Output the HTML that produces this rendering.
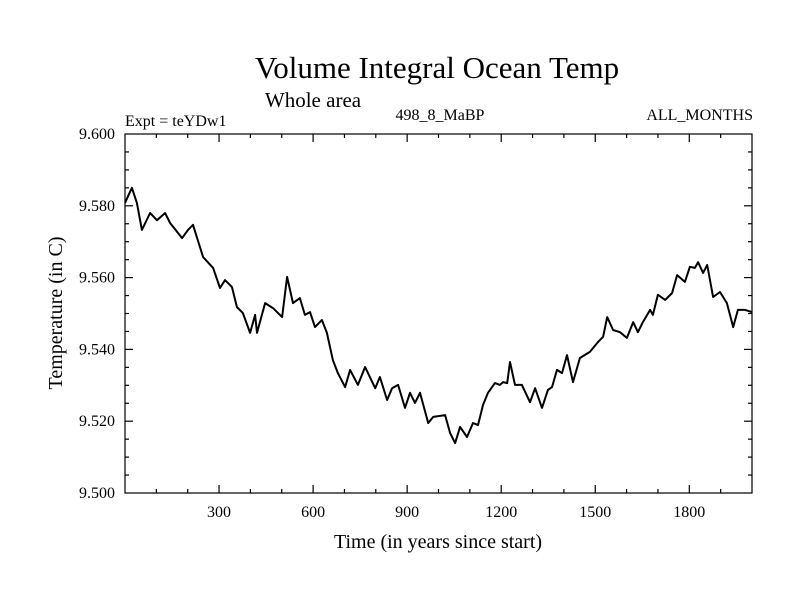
<!DOCTYPE html>
<html><head><meta charset="utf-8"><style>
body{margin:0;background:#fff;}
svg text{font-family:"Liberation Serif",serif;fill:#000;}
</style></head><body>
<svg id="chart" width="800" height="600" xmlns="http://www.w3.org/2000/svg">
<text x="437" y="78" font-size="31" text-anchor="middle">Volume Integral Ocean Temp</text>
<text x="313" y="107" font-size="21" text-anchor="middle">Whole area</text>
<text x="125" y="126" font-size="16">Expt = teYDw1</text>
<text x="440" y="120" font-size="16" text-anchor="middle">498_8_MaBP</text>
<text x="753" y="120" font-size="16" text-anchor="end">ALL_MONTHS</text>
<text x="438" y="548" font-size="20" text-anchor="middle">Time (in years since start)</text>
<text transform="translate(62,313) rotate(-90)" font-size="20" text-anchor="middle">Temperature (in C)</text>
<g id="axes"></g>
<rect x="125" y="134" width="627" height="359" fill="none" stroke="#000" stroke-width="1.2"/>
<path id="series" fill="none" stroke="#000" stroke-width="2" stroke-linejoin="round"/>
</svg>
<script>
const years=[0,22,38,54,80,102,128,144,182,201,217,249,281,303,319,341,357,376,399,415,421,447,472,501,517,536,558,574,590,606,628,644,663,679,702,718,743,766,798,813,836,852,871,893,909,925,941,967,983,1021,1037,1053,1069,1091,1110,1126,1142,1158,1180,1196,1206,1219,1228,1244,1266,1292,1308,1330,1349,1362,1378,1394,1410,1429,1451,1483,1509,1525,1538,1557,1579,1601,1621,1636,1652,1675,1684,1700,1723,1745,1761,1786,1802,1818,1828,1844,1857,1876,1898,1920,1940,1955,1978,2000];
const temps=[9.5808,9.5850,9.5808,9.5733,9.5780,9.5760,9.5780,9.5752,9.5710,9.5733,9.5747,9.5657,9.5627,9.5571,9.5593,9.5574,9.5518,9.5501,9.5446,9.5496,9.5446,9.5529,9.5515,9.5490,9.5602,9.5529,9.5543,9.5496,9.5504,9.5462,9.5482,9.5446,9.5370,9.5334,9.5295,9.5343,9.5301,9.5351,9.5292,9.5323,9.5259,9.5292,9.5301,9.5237,9.5279,9.5251,9.5279,9.5195,9.5212,9.5217,9.5167,9.5139,9.5184,9.5156,9.5195,9.5189,9.5245,9.5279,9.5306,9.5301,9.5309,9.5306,9.5365,9.5301,9.5301,9.5253,9.5292,9.5237,9.5287,9.5295,9.5343,9.5334,9.5384,9.5309,9.5376,9.5393,9.5421,9.5435,9.5490,9.5454,9.5448,9.5432,9.5476,9.5448,9.5476,9.5510,9.5496,9.5552,9.5538,9.5557,9.5607,9.5588,9.5630,9.5627,9.5643,9.5613,9.5635,9.5546,9.5560,9.5529,9.5462,9.5510,9.5510,9.5504];
const xTickLabels=["300","600","900","1200","1500","1800"];
const yTickLabels=["9.500","9.520","9.540","9.560","9.580","9.600"];
const X0=125,X1=752,Y0=493,Y1=134;
const xMin=0,xMax=2000,yMin=9.5,yMax=9.6;
function sx(v){return X0+(v-xMin)/(xMax-xMin)*(X1-X0);}
function sy(v){return Y0-(v-yMin)/(yMax-yMin)*(Y0-Y1);}
const NS="http://www.w3.org/2000/svg";
const axes=document.getElementById('axes');
function line(x1,y1,x2,y2,name){
  const l=document.createElementNS(NS,'line');
  l.setAttribute('x1',x1);l.setAttribute('y1',y1);l.setAttribute('x2',x2);l.setAttribute('y2',y2);
  l.setAttribute('stroke','#000');l.setAttribute('stroke-width','1.2');
  
  
  axes.appendChild(l);
}
function text(x,y,s,anchor,name){
  const t=document.createElementNS(NS,'text');
  t.setAttribute('x',x);t.setAttribute('y',y);t.setAttribute('font-size','16');t.setAttribute('text-anchor',anchor);
  t.textContent=s;
  
  
  axes.appendChild(t);
}
for(let v=100;v<2000;v+=100){
  const x=sx(v),major=v%300===0,L=major?8:4;
  line(x,Y0,x,Y0-L,'x-tick');
  line(x,Y1,x,Y1+L,'x-tick-top');
}
xTickLabels.forEach(s=>text(sx(+s),Y0+24,s,'middle','x-tick-label'));
for(let i=1;i<20;i++){
  const v=yMin+i*0.005,y=sy(v),major=i%4===0,L=major?8:4;
  line(X0,y,X0+L,y,'y-tick');
  line(X1,y,X1-L,y,'y-tick-right');
}
yTickLabels.forEach(s=>text(X0-10,sy(+s)+5,s,'end','y-tick-label'));
let d='';
years.forEach((y,i)=>{d+=(i?'L':'M')+sx(y).toFixed(1)+','+sy(temps[i]).toFixed(1);});
document.getElementById('series').setAttribute('d',d);
</script>
</body></html>
